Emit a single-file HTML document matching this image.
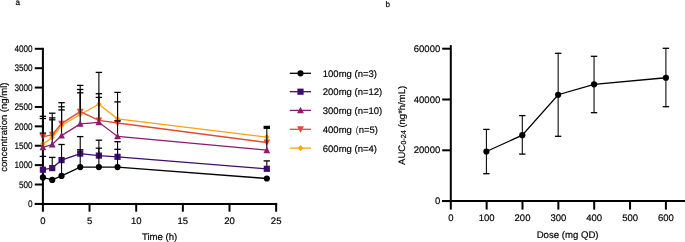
<!DOCTYPE html>
<html><head><meta charset="utf-8"><style>
html,body{margin:0;padding:0;background:#fff;width:685px;height:242px;overflow:hidden;}
body{position:relative;font-family:"Liberation Sans", sans-serif;}
</style></head><body>
<svg width="685" height="242" viewBox="0 0 685 242" style="position:absolute;left:0;top:0;will-change:transform">
<g font-family='"Liberation Sans", sans-serif' fill="#000" text-rendering="geometricPrecision">
<text x="0" y="0" font-size="8.2" text-anchor="start" transform="translate(15.60 4.60) scale(1.000 1.000)" stroke="#000" stroke-width="0.18">a</text>
<text x="0" y="0" font-size="8.2" text-anchor="start" transform="translate(385.40 6.90) scale(1.000 1.000)" stroke="#000" stroke-width="0.18">b</text>
<line x1="34.8" y1="203.90" x2="42.90" y2="203.90" stroke="#000" stroke-width="2.0"/>
<text x="0" y="0" font-size="9.5" text-anchor="end" transform="translate(32.60 207.20) scale(0.860 1.000)" stroke="#000" stroke-width="0.18">0</text>
<line x1="34.8" y1="184.51" x2="42.90" y2="184.51" stroke="#000" stroke-width="2.0"/>
<text x="0" y="0" font-size="9.5" text-anchor="end" transform="translate(32.60 187.81) scale(0.860 1.000)" stroke="#000" stroke-width="0.18">500</text>
<line x1="34.8" y1="165.12" x2="42.90" y2="165.12" stroke="#000" stroke-width="2.0"/>
<text x="0" y="0" font-size="9.5" text-anchor="end" transform="translate(32.60 168.43) scale(0.860 1.000)" stroke="#000" stroke-width="0.18">1000</text>
<line x1="34.8" y1="145.74" x2="42.90" y2="145.74" stroke="#000" stroke-width="2.0"/>
<text x="0" y="0" font-size="9.5" text-anchor="end" transform="translate(32.60 149.04) scale(0.860 1.000)" stroke="#000" stroke-width="0.18">1500</text>
<line x1="34.8" y1="126.35" x2="42.90" y2="126.35" stroke="#000" stroke-width="2.0"/>
<text x="0" y="0" font-size="9.5" text-anchor="end" transform="translate(32.60 129.65) scale(0.860 1.000)" stroke="#000" stroke-width="0.18">2000</text>
<line x1="34.8" y1="106.96" x2="42.90" y2="106.96" stroke="#000" stroke-width="2.0"/>
<text x="0" y="0" font-size="9.5" text-anchor="end" transform="translate(32.60 110.26) scale(0.860 1.000)" stroke="#000" stroke-width="0.18">2500</text>
<line x1="34.8" y1="87.57" x2="42.90" y2="87.57" stroke="#000" stroke-width="2.0"/>
<text x="0" y="0" font-size="9.5" text-anchor="end" transform="translate(32.60 90.87) scale(0.860 1.000)" stroke="#000" stroke-width="0.18">3000</text>
<line x1="34.8" y1="68.19" x2="42.90" y2="68.19" stroke="#000" stroke-width="2.0"/>
<text x="0" y="0" font-size="9.5" text-anchor="end" transform="translate(32.60 71.49) scale(0.860 1.000)" stroke="#000" stroke-width="0.18">3500</text>
<line x1="34.8" y1="48.80" x2="42.90" y2="48.80" stroke="#000" stroke-width="2.0"/>
<text x="0" y="0" font-size="9.5" text-anchor="end" transform="translate(32.60 52.10) scale(0.860 1.000)" stroke="#000" stroke-width="0.18">4000</text>
<line x1="42.90" y1="47.8" x2="42.90" y2="204.90" stroke="#000" stroke-width="2.0"/>
<line x1="34.8" y1="203.90" x2="277.15" y2="203.90" stroke="#000" stroke-width="2.0"/>
<line x1="42.90" y1="202.90" x2="42.90" y2="211.7" stroke="#000" stroke-width="2.0"/>
<text x="0" y="0" font-size="9.5" text-anchor="middle" transform="translate(42.90 223.70) scale(1.000 1.000)" stroke="#000" stroke-width="0.18">0</text>
<line x1="89.55" y1="202.90" x2="89.55" y2="211.7" stroke="#000" stroke-width="2.0"/>
<text x="0" y="0" font-size="9.5" text-anchor="middle" transform="translate(89.55 223.70) scale(1.000 1.000)" stroke="#000" stroke-width="0.18">5</text>
<line x1="136.20" y1="202.90" x2="136.20" y2="211.7" stroke="#000" stroke-width="2.0"/>
<text x="0" y="0" font-size="9.5" text-anchor="middle" transform="translate(136.20 223.70) scale(1.000 1.000)" stroke="#000" stroke-width="0.18">10</text>
<line x1="182.85" y1="202.90" x2="182.85" y2="211.7" stroke="#000" stroke-width="2.0"/>
<text x="0" y="0" font-size="9.5" text-anchor="middle" transform="translate(182.85 223.70) scale(1.000 1.000)" stroke="#000" stroke-width="0.18">15</text>
<line x1="229.50" y1="202.90" x2="229.50" y2="211.7" stroke="#000" stroke-width="2.0"/>
<text x="0" y="0" font-size="9.5" text-anchor="middle" transform="translate(229.50 223.70) scale(1.000 1.000)" stroke="#000" stroke-width="0.18">20</text>
<line x1="276.15" y1="202.90" x2="276.15" y2="211.7" stroke="#000" stroke-width="2.0"/>
<text x="0" y="0" font-size="9.5" text-anchor="middle" transform="translate(276.15 223.70) scale(1.000 1.000)" stroke="#000" stroke-width="0.18">25</text>
<text x="0" y="0" font-size="9.6" text-anchor="middle" transform="translate(159.60 240.35) scale(1.000 1.000)" stroke="#000" stroke-width="0.18">Time (h)</text>
<text x="0" y="0" font-size="9.5" text-anchor="middle" transform="translate(7.40 127.20) rotate(-90) scale(1.000 1.000)" stroke="#000" stroke-width="0.18">concentration (ng/ml)</text>
<line x1="42.90" y1="116.30" x2="42.90" y2="144.00" stroke="#000" stroke-width="1.1"/>
<line x1="39.70" y1="116.30" x2="46.10" y2="116.30" stroke="#000" stroke-width="1.3"/>
<line x1="52.23" y1="113.20" x2="52.23" y2="137.40" stroke="#000" stroke-width="1.1"/>
<line x1="49.03" y1="113.20" x2="55.43" y2="113.20" stroke="#000" stroke-width="1.3"/>
<line x1="61.56" y1="102.70" x2="61.56" y2="125.50" stroke="#000" stroke-width="1.1"/>
<line x1="58.36" y1="102.70" x2="64.76" y2="102.70" stroke="#000" stroke-width="1.3"/>
<line x1="80.22" y1="85.40" x2="80.22" y2="114.50" stroke="#000" stroke-width="1.1"/>
<line x1="77.02" y1="85.40" x2="83.42" y2="85.40" stroke="#000" stroke-width="1.3"/>
<line x1="98.88" y1="72.40" x2="98.88" y2="104.20" stroke="#000" stroke-width="1.1"/>
<line x1="95.68" y1="72.40" x2="102.08" y2="72.40" stroke="#000" stroke-width="1.3"/>
<line x1="117.54" y1="92.40" x2="117.54" y2="118.80" stroke="#000" stroke-width="1.1"/>
<line x1="114.34" y1="92.40" x2="120.74" y2="92.40" stroke="#000" stroke-width="1.3"/>
<line x1="263.62" y1="126.40" x2="270.02" y2="126.40" stroke="#000" stroke-width="1.3"/>
<polyline points="42.90,144.00 52.23,137.40 61.56,125.50 80.22,114.50 98.88,104.20 117.54,118.80 266.82,137.10" fill="none" stroke="#fca312" stroke-width="1.3"/>
<polygon points="42.90,140.90 45.69,144.00 42.90,147.10 40.11,144.00" fill="#fca312"/>
<polygon points="52.23,134.30 55.02,137.40 52.23,140.50 49.44,137.40" fill="#fca312"/>
<polygon points="61.56,122.40 64.35,125.50 61.56,128.60 58.77,125.50" fill="#fca312"/>
<polygon points="80.22,111.40 83.01,114.50 80.22,117.60 77.43,114.50" fill="#fca312"/>
<polygon points="98.88,101.10 101.67,104.20 98.88,107.30 96.09,104.20" fill="#fca312"/>
<polygon points="117.54,115.70 120.33,118.80 117.54,121.90 114.75,118.80" fill="#fca312"/>
<polygon points="266.82,134.00 269.61,137.10 266.82,140.20 264.03,137.10" fill="#fca312"/>
<line x1="42.90" y1="118.50" x2="42.90" y2="136.80" stroke="#000" stroke-width="1.1"/>
<line x1="39.70" y1="118.50" x2="46.10" y2="118.50" stroke="#000" stroke-width="1.3"/>
<line x1="52.23" y1="117.90" x2="52.23" y2="134.70" stroke="#000" stroke-width="1.1"/>
<line x1="49.03" y1="117.90" x2="55.43" y2="117.90" stroke="#000" stroke-width="1.3"/>
<line x1="61.56" y1="106.80" x2="61.56" y2="123.60" stroke="#000" stroke-width="1.1"/>
<line x1="58.36" y1="106.80" x2="64.76" y2="106.80" stroke="#000" stroke-width="1.3"/>
<line x1="80.22" y1="89.50" x2="80.22" y2="111.60" stroke="#000" stroke-width="1.1"/>
<line x1="77.02" y1="89.50" x2="83.42" y2="89.50" stroke="#000" stroke-width="1.3"/>
<line x1="98.88" y1="93.70" x2="98.88" y2="120.40" stroke="#000" stroke-width="1.1"/>
<line x1="95.68" y1="93.70" x2="102.08" y2="93.70" stroke="#000" stroke-width="1.3"/>
<line x1="117.54" y1="101.90" x2="117.54" y2="123.00" stroke="#000" stroke-width="1.1"/>
<line x1="114.34" y1="101.90" x2="120.74" y2="101.90" stroke="#000" stroke-width="1.3"/>
<line x1="263.62" y1="127.40" x2="270.02" y2="127.40" stroke="#000" stroke-width="1.3"/>
<polyline points="42.90,136.80 52.23,134.70 61.56,123.60 80.22,111.60 98.88,120.40 117.54,123.00 266.82,142.50" fill="none" stroke="#de4e37" stroke-width="1.3"/>
<polygon points="42.90,140.38 46.31,133.87 39.49,133.87" fill="#de4e37"/>
<polygon points="52.23,138.28 55.64,131.77 48.82,131.77" fill="#de4e37"/>
<polygon points="61.56,127.18 64.97,120.67 58.15,120.67" fill="#de4e37"/>
<polygon points="80.22,115.18 83.63,108.67 76.81,108.67" fill="#de4e37"/>
<polygon points="98.88,123.98 102.29,117.47 95.47,117.47" fill="#de4e37"/>
<polygon points="117.54,126.58 120.95,120.07 114.13,120.07" fill="#de4e37"/>
<polygon points="266.82,146.08 270.23,139.57 263.41,139.57" fill="#de4e37"/>
<line x1="42.90" y1="133.10" x2="42.90" y2="147.40" stroke="#000" stroke-width="1.1"/>
<line x1="39.70" y1="133.10" x2="46.10" y2="133.10" stroke="#000" stroke-width="1.3"/>
<line x1="52.23" y1="119.80" x2="52.23" y2="144.50" stroke="#000" stroke-width="1.1"/>
<line x1="49.03" y1="119.80" x2="55.43" y2="119.80" stroke="#000" stroke-width="1.3"/>
<line x1="61.56" y1="109.90" x2="61.56" y2="135.60" stroke="#000" stroke-width="1.1"/>
<line x1="58.36" y1="109.90" x2="64.76" y2="109.90" stroke="#000" stroke-width="1.3"/>
<line x1="80.22" y1="92.80" x2="80.22" y2="123.90" stroke="#000" stroke-width="1.1"/>
<line x1="77.02" y1="92.80" x2="83.42" y2="92.80" stroke="#000" stroke-width="1.3"/>
<line x1="98.88" y1="97.40" x2="98.88" y2="122.30" stroke="#000" stroke-width="1.1"/>
<line x1="95.68" y1="97.40" x2="102.08" y2="97.40" stroke="#000" stroke-width="1.3"/>
<line x1="117.54" y1="120.90" x2="117.54" y2="136.40" stroke="#000" stroke-width="1.1"/>
<line x1="114.34" y1="120.90" x2="120.74" y2="120.90" stroke="#000" stroke-width="1.3"/>
<line x1="266.82" y1="128.30" x2="266.82" y2="150.20" stroke="#000" stroke-width="1.1"/>
<line x1="263.62" y1="128.30" x2="270.02" y2="128.30" stroke="#000" stroke-width="1.3"/>
<polyline points="42.90,147.40 52.23,144.50 61.56,135.60 80.22,123.90 98.88,122.30 117.54,136.40 266.82,150.20" fill="none" stroke="#8c1b72" stroke-width="1.3"/>
<polygon points="42.90,143.82 46.31,150.33 39.49,150.33" fill="#8c1b72"/>
<polygon points="52.23,140.92 55.64,147.43 48.82,147.43" fill="#8c1b72"/>
<polygon points="61.56,132.02 64.97,138.53 58.15,138.53" fill="#8c1b72"/>
<polygon points="80.22,120.32 83.63,126.83 76.81,126.83" fill="#8c1b72"/>
<polygon points="98.88,118.72 102.29,125.23 95.47,125.23" fill="#8c1b72"/>
<polygon points="117.54,132.82 120.95,139.33 114.13,139.33" fill="#8c1b72"/>
<polygon points="266.82,146.62 270.23,153.13 263.41,153.13" fill="#8c1b72"/>
<line x1="42.90" y1="156.40" x2="42.90" y2="169.70" stroke="#000" stroke-width="1.1"/>
<line x1="39.70" y1="156.40" x2="46.10" y2="156.40" stroke="#000" stroke-width="1.3"/>
<line x1="52.23" y1="157.40" x2="52.23" y2="168.10" stroke="#000" stroke-width="1.1"/>
<line x1="49.03" y1="157.40" x2="55.43" y2="157.40" stroke="#000" stroke-width="1.3"/>
<line x1="80.22" y1="136.60" x2="80.22" y2="153.60" stroke="#000" stroke-width="1.1"/>
<line x1="77.02" y1="136.60" x2="83.42" y2="136.60" stroke="#000" stroke-width="1.3"/>
<line x1="98.88" y1="140.20" x2="98.88" y2="155.60" stroke="#000" stroke-width="1.1"/>
<line x1="95.68" y1="140.20" x2="102.08" y2="140.20" stroke="#000" stroke-width="1.3"/>
<line x1="117.54" y1="149.30" x2="117.54" y2="156.80" stroke="#000" stroke-width="1.1"/>
<line x1="114.34" y1="149.30" x2="120.74" y2="149.30" stroke="#000" stroke-width="1.3"/>
<line x1="266.82" y1="160.90" x2="266.82" y2="168.80" stroke="#000" stroke-width="1.1"/>
<line x1="263.62" y1="160.90" x2="270.02" y2="160.90" stroke="#000" stroke-width="1.3"/>
<polyline points="42.90,169.70 52.23,168.10 61.56,160.10 80.22,153.60 98.88,155.60 117.54,156.80 266.82,168.80" fill="none" stroke="#3f0d72" stroke-width="1.3"/>
<rect x="39.80" y="166.60" width="6.20" height="6.20" fill="#3f0d72"/>
<rect x="49.13" y="165.00" width="6.20" height="6.20" fill="#3f0d72"/>
<rect x="58.46" y="157.00" width="6.20" height="6.20" fill="#3f0d72"/>
<rect x="77.12" y="150.50" width="6.20" height="6.20" fill="#3f0d72"/>
<rect x="95.78" y="152.50" width="6.20" height="6.20" fill="#3f0d72"/>
<rect x="114.44" y="153.70" width="6.20" height="6.20" fill="#3f0d72"/>
<rect x="263.72" y="165.70" width="6.20" height="6.20" fill="#3f0d72"/>
<line x1="61.56" y1="144.50" x2="61.56" y2="175.90" stroke="#000" stroke-width="1.1"/>
<line x1="58.36" y1="144.50" x2="64.76" y2="144.50" stroke="#000" stroke-width="1.3"/>
<line x1="80.22" y1="149.80" x2="80.22" y2="167.10" stroke="#000" stroke-width="1.1"/>
<line x1="77.02" y1="149.80" x2="83.42" y2="149.80" stroke="#000" stroke-width="1.3"/>
<line x1="98.88" y1="148.20" x2="98.88" y2="167.10" stroke="#000" stroke-width="1.1"/>
<line x1="95.68" y1="148.20" x2="102.08" y2="148.20" stroke="#000" stroke-width="1.3"/>
<line x1="117.54" y1="141.70" x2="117.54" y2="167.10" stroke="#000" stroke-width="1.1"/>
<line x1="114.34" y1="141.70" x2="120.74" y2="141.70" stroke="#000" stroke-width="1.3"/>
<polyline points="42.90,177.40 52.23,179.90 61.56,175.90 80.22,167.10 98.88,167.10 117.54,167.10 266.82,178.50" fill="none" stroke="#000" stroke-width="1.3"/>
<circle cx="42.90" cy="177.40" r="3.10" fill="#000"/>
<circle cx="52.23" cy="179.90" r="3.10" fill="#000"/>
<circle cx="61.56" cy="175.90" r="3.10" fill="#000"/>
<circle cx="80.22" cy="167.10" r="3.10" fill="#000"/>
<circle cx="98.88" cy="167.10" r="3.10" fill="#000"/>
<circle cx="117.54" cy="167.10" r="3.10" fill="#000"/>
<circle cx="266.82" cy="178.50" r="3.10" fill="#000"/>
<line x1="289.8" y1="73.30" x2="311" y2="73.30" stroke="#000" stroke-width="1.3"/>
<circle cx="300.50" cy="73.30" r="3.10" fill="#000"/>
<text x="0" y="0" font-size="9.5" text-anchor="start" transform="translate(322.80 76.90) scale(1.000 1.000)" stroke="#000" stroke-width="0.18">100mg (n=3)</text>
<line x1="289.8" y1="91.70" x2="311" y2="91.70" stroke="#3f0d72" stroke-width="1.3"/>
<rect x="297.40" y="88.60" width="6.20" height="6.20" fill="#3f0d72"/>
<text x="0" y="0" font-size="9.5" text-anchor="start" transform="translate(322.80 95.30) scale(1.000 1.000)" stroke="#000" stroke-width="0.18">200mg (n=12)</text>
<line x1="289.8" y1="110.40" x2="311" y2="110.40" stroke="#8c1b72" stroke-width="1.3"/>
<polygon points="300.50,106.82 303.91,113.33 297.09,113.33" fill="#8c1b72"/>
<text x="0" y="0" font-size="9.5" text-anchor="start" transform="translate(322.80 114.00) scale(1.000 1.000)" stroke="#000" stroke-width="0.18">300mg (n=10)</text>
<line x1="289.8" y1="129.30" x2="311" y2="129.30" stroke="#de4e37" stroke-width="1.3"/>
<polygon points="300.50,132.88 303.91,126.37 297.09,126.37" fill="#de4e37"/>
<text x="0" y="0" font-size="9.5" text-anchor="start" transform="translate(322.80 132.90) scale(1.000 1.000)" stroke="#000" stroke-width="0.18">400mg <tspan dx="1.0" stroke-width="0" fill="#333">(</tspan><tspan dx="0.1">n=5)</tspan></text>
<line x1="289.8" y1="148.10" x2="311" y2="148.10" stroke="#fca312" stroke-width="1.3"/>
<polygon points="300.50,145.00 303.29,148.10 300.50,151.20 297.71,148.10" fill="#fca312"/>
<text x="0" y="0" font-size="9.5" text-anchor="start" transform="translate(322.80 151.70) scale(1.000 1.000)" stroke="#000" stroke-width="0.18">600mg (n=4)</text>
<line x1="442.2" y1="201.10" x2="450.80" y2="201.10" stroke="#000" stroke-width="2.0"/>
<text x="0" y="0" font-size="9.5" text-anchor="end" transform="translate(440.20 204.20) scale(1.000 1.000)" stroke="#000" stroke-width="0.18">0</text>
<line x1="442.2" y1="150.30" x2="450.80" y2="150.30" stroke="#000" stroke-width="2.0"/>
<text x="0" y="0" font-size="9.5" text-anchor="end" transform="translate(440.20 153.40) scale(1.000 1.000)" stroke="#000" stroke-width="0.18">20000</text>
<line x1="442.2" y1="99.50" x2="450.80" y2="99.50" stroke="#000" stroke-width="2.0"/>
<text x="0" y="0" font-size="9.5" text-anchor="end" transform="translate(440.20 102.60) scale(1.000 1.000)" stroke="#000" stroke-width="0.18">40000</text>
<line x1="442.2" y1="48.70" x2="450.80" y2="48.70" stroke="#000" stroke-width="2.0"/>
<text x="0" y="0" font-size="9.5" text-anchor="end" transform="translate(440.20 51.80) scale(1.000 1.000)" stroke="#000" stroke-width="0.18">60000</text>
<line x1="450.80" y1="45.1" x2="450.80" y2="202.10" stroke="#000" stroke-width="2.0"/>
<line x1="442.2" y1="201.10" x2="685" y2="201.10" stroke="#000" stroke-width="2.0"/>
<line x1="450.80" y1="200.10" x2="450.80" y2="209.6" stroke="#000" stroke-width="2.0"/>
<text x="0" y="0" font-size="9.5" text-anchor="middle" transform="translate(450.80 221.10) scale(1.000 1.000)" stroke="#000" stroke-width="0.18">0</text>
<line x1="486.65" y1="200.10" x2="486.65" y2="209.6" stroke="#000" stroke-width="2.0"/>
<text x="0" y="0" font-size="9.5" text-anchor="middle" transform="translate(486.65 221.10) scale(1.000 1.000)" stroke="#000" stroke-width="0.18">100</text>
<line x1="522.50" y1="200.10" x2="522.50" y2="209.6" stroke="#000" stroke-width="2.0"/>
<text x="0" y="0" font-size="9.5" text-anchor="middle" transform="translate(522.50 221.10) scale(1.000 1.000)" stroke="#000" stroke-width="0.18">200</text>
<line x1="558.35" y1="200.10" x2="558.35" y2="209.6" stroke="#000" stroke-width="2.0"/>
<text x="0" y="0" font-size="9.5" text-anchor="middle" transform="translate(558.35 221.10) scale(1.000 1.000)" stroke="#000" stroke-width="0.18">300</text>
<line x1="594.20" y1="200.10" x2="594.20" y2="209.6" stroke="#000" stroke-width="2.0"/>
<text x="0" y="0" font-size="9.5" text-anchor="middle" transform="translate(594.20 221.10) scale(1.000 1.000)" stroke="#000" stroke-width="0.18">400</text>
<line x1="630.05" y1="200.10" x2="630.05" y2="209.6" stroke="#000" stroke-width="2.0"/>
<text x="0" y="0" font-size="9.5" text-anchor="middle" transform="translate(630.05 221.10) scale(1.000 1.000)" stroke="#000" stroke-width="0.18">500</text>
<line x1="665.90" y1="200.10" x2="665.90" y2="209.6" stroke="#000" stroke-width="2.0"/>
<text x="0" y="0" font-size="9.5" text-anchor="middle" transform="translate(665.90 221.10) scale(1.000 1.000)" stroke="#000" stroke-width="0.18">600</text>
<text x="0" y="0" font-size="9.6" text-anchor="middle" transform="translate(567.60 237.90) scale(1.000 1.000)" stroke="#000" stroke-width="0.18">Dose (mg QD)</text>
<text x="0" y="0" font-size="9.5" text-anchor="middle" transform="translate(404.60 125.40) rotate(-90) scale(1.000 1.000)" stroke="#000" stroke-width="0.18">AUC<tspan font-size="7.3" dy="1.4">0-24</tspan><tspan dy="-1.4"> (ng*h/mL)</tspan></text>
<line x1="486.40" y1="129.40" x2="486.40" y2="173.70" stroke="#000" stroke-width="1.05"/>
<line x1="483.20" y1="129.40" x2="489.60" y2="129.40" stroke="#000" stroke-width="1.3"/>
<line x1="483.20" y1="173.70" x2="489.60" y2="173.70" stroke="#000" stroke-width="1.3"/>
<line x1="522.30" y1="115.60" x2="522.30" y2="154.10" stroke="#000" stroke-width="1.05"/>
<line x1="519.10" y1="115.60" x2="525.50" y2="115.60" stroke="#000" stroke-width="1.3"/>
<line x1="519.10" y1="154.10" x2="525.50" y2="154.10" stroke="#000" stroke-width="1.3"/>
<line x1="558.15" y1="53.30" x2="558.15" y2="136.30" stroke="#000" stroke-width="1.05"/>
<line x1="554.95" y1="53.30" x2="561.35" y2="53.30" stroke="#000" stroke-width="1.3"/>
<line x1="554.95" y1="136.30" x2="561.35" y2="136.30" stroke="#000" stroke-width="1.3"/>
<line x1="594.05" y1="56.30" x2="594.05" y2="112.70" stroke="#000" stroke-width="1.05"/>
<line x1="590.85" y1="56.30" x2="597.25" y2="56.30" stroke="#000" stroke-width="1.3"/>
<line x1="590.85" y1="112.70" x2="597.25" y2="112.70" stroke="#000" stroke-width="1.3"/>
<line x1="665.90" y1="48.30" x2="665.90" y2="106.70" stroke="#000" stroke-width="1.05"/>
<line x1="662.70" y1="48.30" x2="669.10" y2="48.30" stroke="#000" stroke-width="1.3"/>
<line x1="662.70" y1="106.70" x2="669.10" y2="106.70" stroke="#000" stroke-width="1.3"/>
<polyline points="486.40,151.50 522.30,135.20 558.15,94.75 594.05,84.30 665.90,77.75" fill="none" stroke="#000" stroke-width="1.3"/>
<circle cx="486.40" cy="151.50" r="3.1" fill="#000"/>
<circle cx="522.30" cy="135.20" r="3.1" fill="#000"/>
<circle cx="558.15" cy="94.75" r="3.1" fill="#000"/>
<circle cx="594.05" cy="84.30" r="3.1" fill="#000"/>
<circle cx="665.90" cy="77.75" r="3.1" fill="#000"/>
</g></svg>
</body></html>
